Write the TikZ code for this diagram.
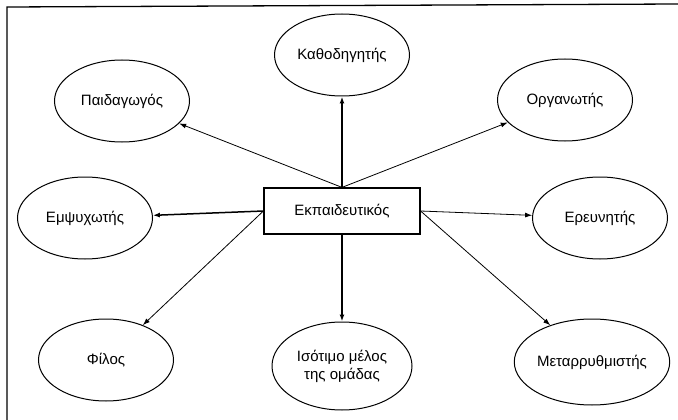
\documentclass[tikz,border=0pt]{standalone}
\usepackage{fontspec}
\setmainfont{Liberation Sans}
\usetikzlibrary{shapes.geometric,arrows.meta}
\begin{document}
\begin{tikzpicture}[x=1pt,y=-1pt,
  role/.style={draw,ellipse,line width=1pt,minimum width=135pt,minimum height=82pt,inner sep=0pt,font=\fontsize{15}{18}\selectfont,align=center},
  centre/.style={draw,rectangle,line width=1.2pt,minimum width=156pt,minimum height=46pt,inner sep=0pt,font=\fontsize{15}{18}\selectfont},
  link/.style={line width=0.8pt,-{Latex[length=7pt,width=5pt]}},
  thick link/.style={line width=1.5pt,-{Latex[length=7pt,width=5pt]}},
  frame/.style={line width=1.3pt}]
\useasboundingbox (0,0) rectangle (678,420);
\coordinate (ftr) at (678,4);
\coordinate (ftl) at (7,7);
\coordinate (fbl) at (7,420);
\draw[frame] (fbl) -- (ftl) -- (ftr);
\node[centre] (edu) at (342,211) {Εκπαιδευτικός};
\node[role] (kath) at (342,55) {Καθοδηγητής};
\node[role] (paid) at (122,101) {Παιδαγωγός};
\node[role] (org) at (565,100) {Οργανωτής};
\node[role] (emps) at (85,218) {Εμψυχωτής};
\node[role] (ereu) at (600,218) {Ερευνητής};
\node[role] (fil) at (106,360) {Φίλος};
\node[role,minimum width=140pt,minimum height=88pt] (isot) at (342,366) {Ισότιμο μέλος\\της ομάδας};
\node[role,minimum width=145pt,minimum height=86pt] (meta) at (592,362) {Μεταρρυθμιστής};
\draw[thick link] (edu.north) -- (kath);
\draw[link] (edu.north) -- (paid);
\draw[link] (edu.north) -- (org);
\draw[thick link] (edu.west) -- (emps);
\draw[link] (edu.east) -- (ereu);
\draw[link] (edu.west) -- (fil);
\draw[thick link] (edu.south) -- (isot);
\draw[link] (edu.east) -- (meta);
\end{tikzpicture}
\end{document}
